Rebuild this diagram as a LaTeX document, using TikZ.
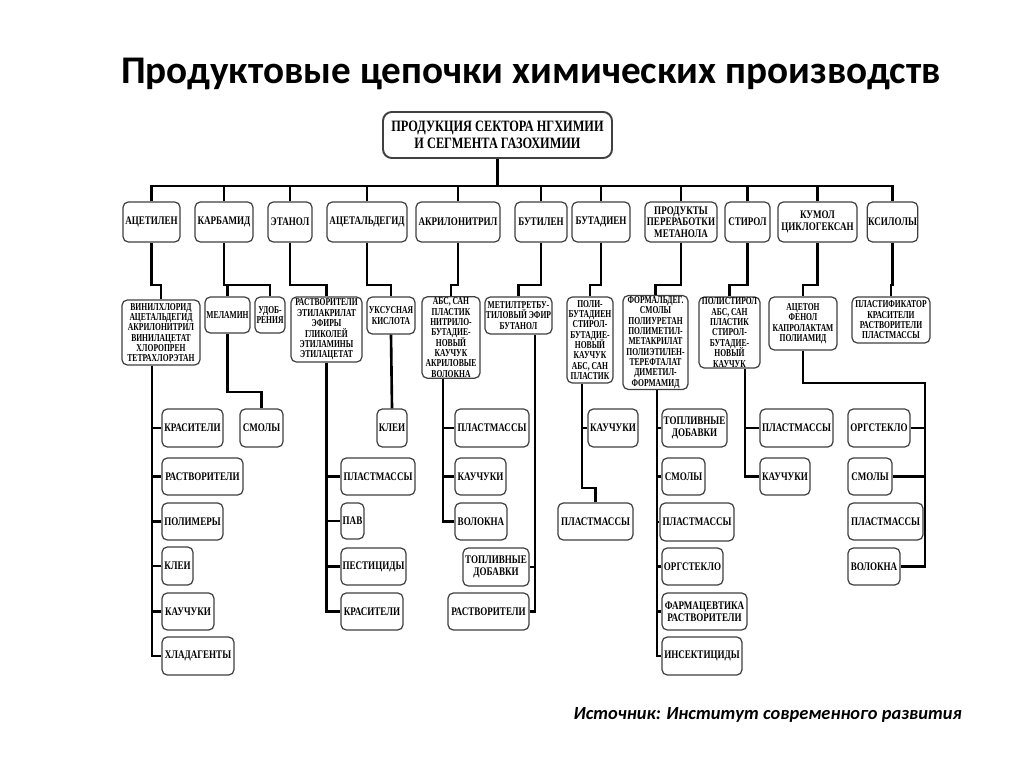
\documentclass[tikz,border=0pt]{standalone}
\usepackage{fontspec}
\setmainfont{Liberation Serif}
\newfontfamily\bxf{Liberation Serif}[FakeStretch=0.78]
\newfontfamily\bxg{Liberation Serif}[FakeStretch=0.72]
\newfontfamily\ttl{Carlito}
\newcommand\tightlines{\lineskiplimit=-6pt\relax\lineskip=0pt\relax}
\tikzset{
  bx/.style={draw=black!75, line width=0.7pt, rounded corners=3pt, fill=white, align=center, inner sep=0.5pt,
    font=\bxf\bfseries\fontsize{6.6}{6.6}\selectfont\tightlines},
  btwo/.style={font=\bxg\bfseries\fontsize{6.0}{5.9}\selectfont\tightlines},
  conn/.style={line width=1.5pt, black},
}
\newcommand\bx[7][]{\node[bx,#1,minimum width={(#5-#3)*0.02cm},minimum height={(#6-#4)*0.02cm}] (#2) at ({(#3+#5)/2},{(#4+#6)/2}) {#7};}
\begin{document}
\begin{tikzpicture}[x=0.02cm,y=-0.02cm]
\useasboundingbox (0,0) rectangle (1024,767);
\fill[white] (0,0) rectangle (1024,767);

\node[anchor=base, font=\ttl\bfseries\fontsize{22.3}{26}\selectfont] (title) at (531,84) {Продуктовые цепочки химических производств};

\bx[font=\bxf\bfseries\fontsize{9}{10}\selectfont, line width=1.1pt, rounded corners=5pt]{root}{383}{112}{612}{158}{ПРОДУКЦИЯ СЕКТОРА НГХИМИИ\\И СЕГМЕНТА ГАЗОХИМИИ}

% level 1
\bx{acet}{123}{202}{180}{242}{АЦЕТИЛЕН}
\bx{karb}{195}{202}{253}{242}{КАРБАМИД}
\bx{etan}{268}{202}{312}{242}{ЭТАНОЛ}
\bx{acal}{327}{202}{407}{242}{АЦЕТАЛЬДЕГИД}
\bx{akr}{416}{202}{500}{242}{АКРИЛОНИТРИЛ}
\bx{but}{515}{202}{567}{242}{БУТИЛЕН}
\bx{butd}{572}{202}{630}{242}{БУТАДИЕН}
\bx{prod}{645}{202}{717}{242}{ПРОДУКТЫ\\ПЕРЕРАБОТКИ\\МЕТАНОЛА}
\bx{stir}{725}{202}{770}{242}{СТИРОЛ}
\bx{kum}{778}{202}{857}{242}{КУМОЛ\\ЦИКЛОГЕКСАН}
\bx{ksil}{868}{202}{917}{242}{КСИЛОЛЫ}

% level 2
\bx[btwo]{vin}{122}{300}{200}{365}{ВИНИЛХЛОРИД\\АЦЕТАЛЬДЕГИД\\АКРИЛОНИТРИЛ\\ВИНИЛАЦЕТАТ\\ХЛОРОПРЕН\\ТЕТРАХЛОРЭТАН}
\bx[btwo]{mel}{205}{297}{250}{333}{МЕЛАМИН}
\bx[btwo]{udo}{255}{297}{285}{333}{УДОБ-\\РЕНИЯ}
\bx[btwo]{rast}{291}{297}{362}{362}{РАСТВОРИТЕЛИ\\ЭТИЛАКРИЛАТ\\ЭФИРЫ\\ГЛИКОЛЕЙ\\ЭТИЛАМИНЫ\\ЭТИЛАЦЕТАТ}
\bx[btwo]{uks}{367}{297}{415}{334}{УКСУСНАЯ\\КИСЛОТА}
\bx[btwo]{abs}{422}{297}{480}{378}{АБС, САН\\ПЛАСТИК\\НИТРИЛО-\\БУТАДИЕ-\\НОВЫЙ\\КАУЧУК\\АКРИЛОВЫЕ\\ВОЛОКНА}
\bx[btwo]{mtbe}{485}{297}{552}{334}{МЕТИЛТРЕТБУ-\\ТИЛОВЫЙ ЭФИР\\БУТАНОЛ}
\bx[btwo]{polb}{567}{297}{613}{383}{ПОЛИ-\\БУТАДИЕН\\СТИРОЛ-\\БУТАДИЕ-\\НОВЫЙ\\КАУЧУК\\АБС, САН\\ПЛАСТИК}
\bx[btwo]{form}{623}{297}{688}{388}{ФОРМАЛЬДЕГ.\\СМОЛЫ\\ПОЛИУРЕТАН\\ПОЛИМЕТИЛ-\\МЕТАКРИЛАТ\\ПОЛИЭТИЛЕН-\\ТЕРЕФТАЛАТ\\ДИМЕТИЛ-\\ФОРМАМИД}
\bx[btwo]{pols}{699}{297}{760}{368}{ПОЛИСТИРОЛ\\АБС, САН\\ПЛАСТИК\\СТИРОЛ-\\БУТАДИЕ-\\НОВЫЙ\\КАУЧУК}
\bx[btwo]{acto}{769}{297}{837}{350}{АЦЕТОН\\ФЕНОЛ\\КАПРОЛАКТАМ\\ПОЛИАМИД}
\bx[btwo]{plf}{852}{297}{930}{343}{ПЛАСТИФИКАТОР\\КРАСИТЕЛИ\\РАСТВОРИТЕЛИ\\ПЛАСТМАССЫ}

% level 3
\bx{ka}{162}{409}{223}{447}{КРАСИТЕЛИ}
\bx{ra}{162}{458}{243}{495}{РАСТВОРИТЕЛИ}
\bx{pa}{162}{503}{223}{540}{ПОЛИМЕРЫ}
\bx{kla}{162}{547}{193}{585}{КЛЕИ}
\bx{kaa}{162}{593}{214}{630}{КАУЧУКИ}
\bx{ha}{162}{637}{234}{675}{ХЛАДАГЕНТЫ}
\bx{sma}{240}{409}{283}{447}{СМОЛЫ}

\bx{plb}{341}{458}{415}{495}{ПЛАСТМАССЫ}
\bx{pavb}{341}{503}{364}{539}{ПАВ}
\bx{pesb}{341}{548}{406}{585}{ПЕСТИЦИДЫ}
\bx{krb}{341}{593}{403}{630}{КРАСИТЕЛИ}
\bx{klc}{377}{409}{407}{447}{КЛЕИ}

\bx{pld}{455}{409}{529}{447}{ПЛАСТМАССЫ}
\bx{kad}{455}{458}{506}{495}{КАУЧУКИ}
\bx{vod}{455}{503}{507}{540}{ВОЛОКНА}
\bx{tde}{463}{548}{529}{586}{ТОПЛИВНЫЕ\\ДОБАВКИ}
\bx{rae}{448}{593}{529}{630}{РАСТВОРИТЕЛИ}

\bx{kaf}{588}{409}{638}{447}{КАУЧУКИ}
\bx{plf3}{558}{503}{633}{540}{ПЛАСТМАССЫ}

\bx{tdg}{662}{409}{727}{447}{ТОПЛИВНЫЕ\\ДОБАВКИ}
\bx{smg}{662}{458}{705}{495}{СМОЛЫ}
\bx{plg}{660}{503}{734}{541}{ПЛАСТМАССЫ}
\bx{org}{662}{548}{723}{585}{ОРГСТЕКЛО}
\bx{fag}{662}{593}{747}{630}{ФАРМАЦЕВТИКА\\РАСТВОРИТЕЛИ}
\bx{ing}{662}{637}{742}{675}{ИНСЕКТИЦИДЫ}

\bx{plh}{760}{409}{833}{447}{ПЛАСТМАССЫ}
\bx{kah}{760}{458}{810}{495}{КАУЧУКИ}

\bx{ori}{848}{409}{910}{447}{ОРГСТЕКЛО}
\bx{smi}{848}{458}{892}{495}{СМОЛЫ}
\bx{pli}{848}{503}{923}{540}{ПЛАСТМАССЫ}
\bx{voi}{848}{548}{900}{585}{ВОЛОКНА}

\node[anchor=base east, font=\ttl\bfseries\itshape\fontsize{10.5}{13}\selectfont] (src) at (968,719) {Источник: Институт современного развития};

% connectors
\coordinate (busy) at (0,186);
\coordinate (jy) at (0,285);
\coordinate (my) at (0,392);
\coordinate (py) at (0,488);
\coordinate (ay) at (0,383);
\coordinate (t1) at (152,0);
\coordinate (t3) at (443,0);
\coordinate (t4) at (535,0);
\coordinate (t5) at (582,0);
\coordinate (t6) at (657,0);
\coordinate (t7) at (745,0);
\coordinate (t8) at (925,0);

\draw[conn] (root.south) -- (root.south |- busy);
\draw[conn] (acet.north) |- (ksil.north |- busy) -- (ksil.north);
\foreach \n in {karb,etan,acal,akr,but,butd,prod,stir,kum}
  \draw[conn] (\n.north) -- (\n.north |- busy);

\foreach \p/\c in {acet/vin,etan/rast,acal/uks,akr/abs,but/mtbe,butd/polb,prod/form,stir/pols,kum/acto,ksil/plf}
  \draw[conn] (\p.south) -- (\p.south |- jy) -| (\c.north);
\draw[conn] (karb.south) -- (karb.south |- jy) -| (mel.north);
\draw[conn] (karb.south |- jy) -| (udo.north);

\draw[conn] (vin.south -| t1) |- (ha.west);
\foreach \n in {ka,ra,pa,kla,kaa} \draw[conn] (\n.west) -- (\n.west -| t1);
\draw[conn] (mel.south) -- (mel.south |- my) -| (sma.north);

\draw[conn] (rast.south) |- (krb.west);
\foreach \n in {plb,pavb,pesb} \draw[conn] (\n.west) -- (\n.west -| rast.south);
\draw[conn] (uks.south) -- (klc.north);

\draw[conn] (abs.south -| t3) |- (vod.west);
\foreach \n in {pld,kad} \draw[conn] (\n.west) -- (\n.west -| t3);
\draw[conn] (mtbe.south -| t4) |- (rae.east);
\draw[conn] (tde.east) -- (tde.east -| t4);

\draw[conn] (polb.south -| t5) -- (t5 |- py) -| (plf3.north);
\draw[conn] (kaf.west) -- (kaf.west -| t5);

\draw[conn] (form.south -| t6) |- (ing.west);
\foreach \n in {tdg,smg,plg,org,fag} \draw[conn] (\n.west) -- (\n.west -| t6);

\draw[conn] (pols.south -| t7) |- (kah.west);
\draw[conn] (plh.west) -- (plh.west -| t7);

\draw[conn] (acto.south) |- (t8 |- ay) |- (voi.east);
\foreach \n in {ori,smi,pli} \draw[conn] (\n.east) -- (\n.east -| t8);
\end{tikzpicture}
\end{document}
